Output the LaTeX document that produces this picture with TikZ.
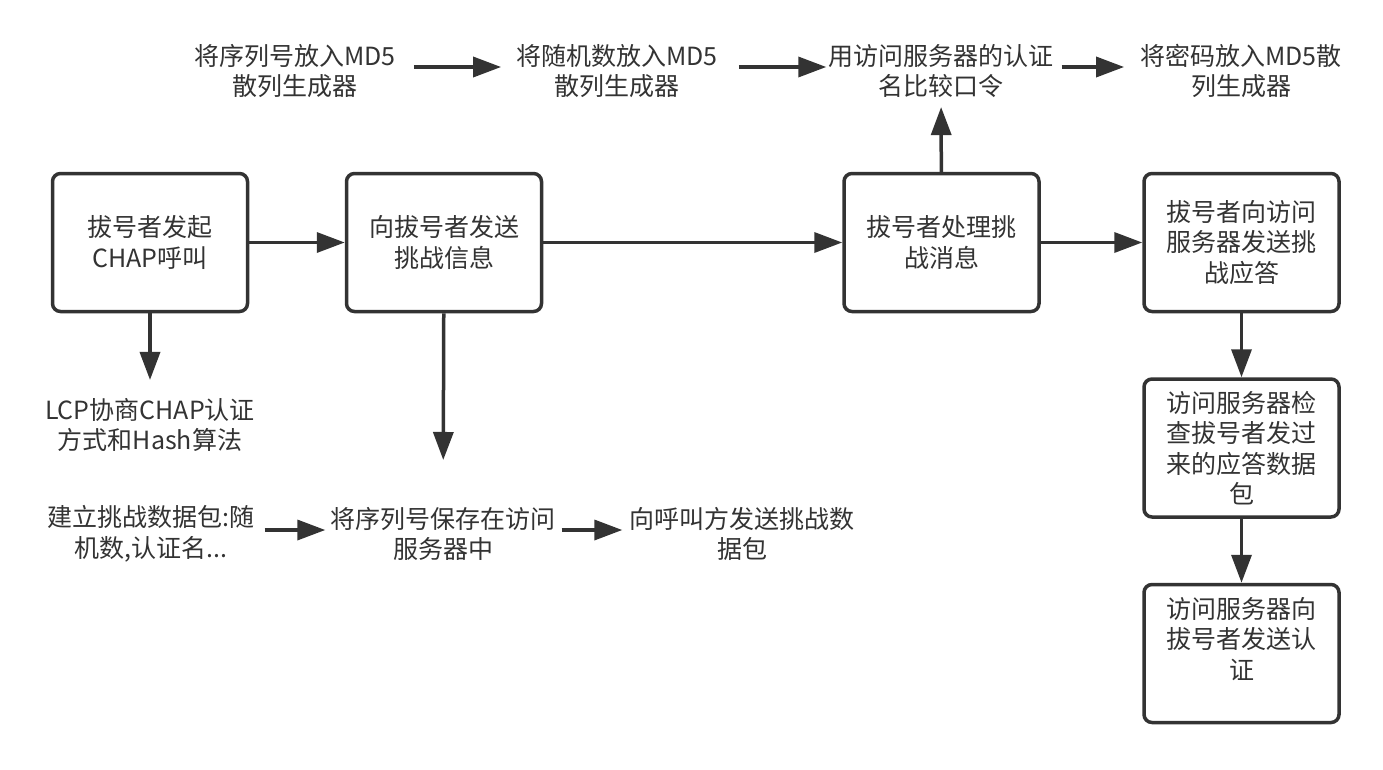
\documentclass[tikz,border=0pt]{standalone}
\usepackage{fontspec}
\setmainfont{Noto Sans CJK SC}
\usetikzlibrary{arrows.meta}
\definecolor{ink}{HTML}{333333}
\begin{document}
\begin{tikzpicture}[x=1pt,y=-1pt,
  font=\fontsize{25}{30.5}\selectfont, text=ink,
  box/.style={draw=ink, line width=3.5pt, rounded corners=8pt, minimum width=195pt, minimum height=138pt, align=center, inner sep=0pt},
  lbl/.style={align=center, inner sep=0pt},
  arr/.style={draw=ink, line width=3.5pt, -{Triangle[length=28pt,width=20pt]}}]
\useasboundingbox[fill=white] (0,0) rectangle (1383,769);
% boxes
\node[box] (b1) at (150,242.5) {拔号者发起\\CHAP呼叫};
\node[box] (b2) at (444,242.5) {向拔号者发送\\挑战信息};
\node[box] (b3) at (941.5,242.5) {拔号者处理挑\\战消息};
\node[box] (b4) at (1241.5,242.5) {拔号者向访问\\服务器发送挑\\战应答};
\node[box] (b5) at (1241.5,448) {访问服务器检\\查拔号者发过\\来的应答数据\\包};
\node[box] (b6) at (1241.5,653.5) {访问服务器向\\拔号者发送认\\证\\\mbox{}};
% labels
\node[lbl] (t1) at (295,71) {将序列号放入MD5\\散列生成器};
\node[lbl] (t2) at (617,71) {将随机数放入MD5\\散列生成器};
\node[lbl] (t3) at (941,71) {用访问服务器的认证\\名比较口令};
\node[lbl] (t4) at (1241,71) {将密码放入MD5散\\列生成器};
\node[lbl] (lcp) at (150,425) {LCP协商CHAP认证\\方式和Hash算法};
\node[lbl] (s1) at (151,534) {建立挑战数据包:随\\机数,认证名...};
\node[lbl] (s2) at (443,534) {将序列号保存在访问\\服务器中};
\node[lbl] (s3) at (742,534) {向呼叫方发送挑战数\\据包};
% connectors
\draw[arr] (b1) -- (b2);
\draw[arr] (b2) -- (b3);
\draw[arr] (b3) -- (b4);
\draw[arr] (b4) -- (b5);
\draw[arr] (b5) -- (b6);
\draw[arr, shorten >=18pt] (b1) -- (lcp);
\draw[arr, shorten >=47pt] (b2) -- (s2);
\draw[arr, shorten >=9pt] (b3) -- (t3);
\draw[arr, shorten <=18pt, shorten >=15pt] ([yshift=4pt]t1.east) -- ([yshift=4pt]t2.west);
\draw[arr, shorten <=21pt, shorten >=2pt] ([yshift=4pt]t2.east) -- ([yshift=4pt]t3.west);
\draw[arr, shorten <=8pt, shorten >=16pt] ([yshift=4pt]t3.east) -- ([yshift=4pt]t4.west);
\draw[arr, shorten <=10pt, shorten >=5pt] ([yshift=4pt]s1.east) -- ([yshift=4pt]s2.west);
\draw[arr, shorten <=6pt, shorten >=7pt] ([yshift=4pt]s2.east) -- ([yshift=4pt]s3.west);
\end{tikzpicture}
\end{document}
